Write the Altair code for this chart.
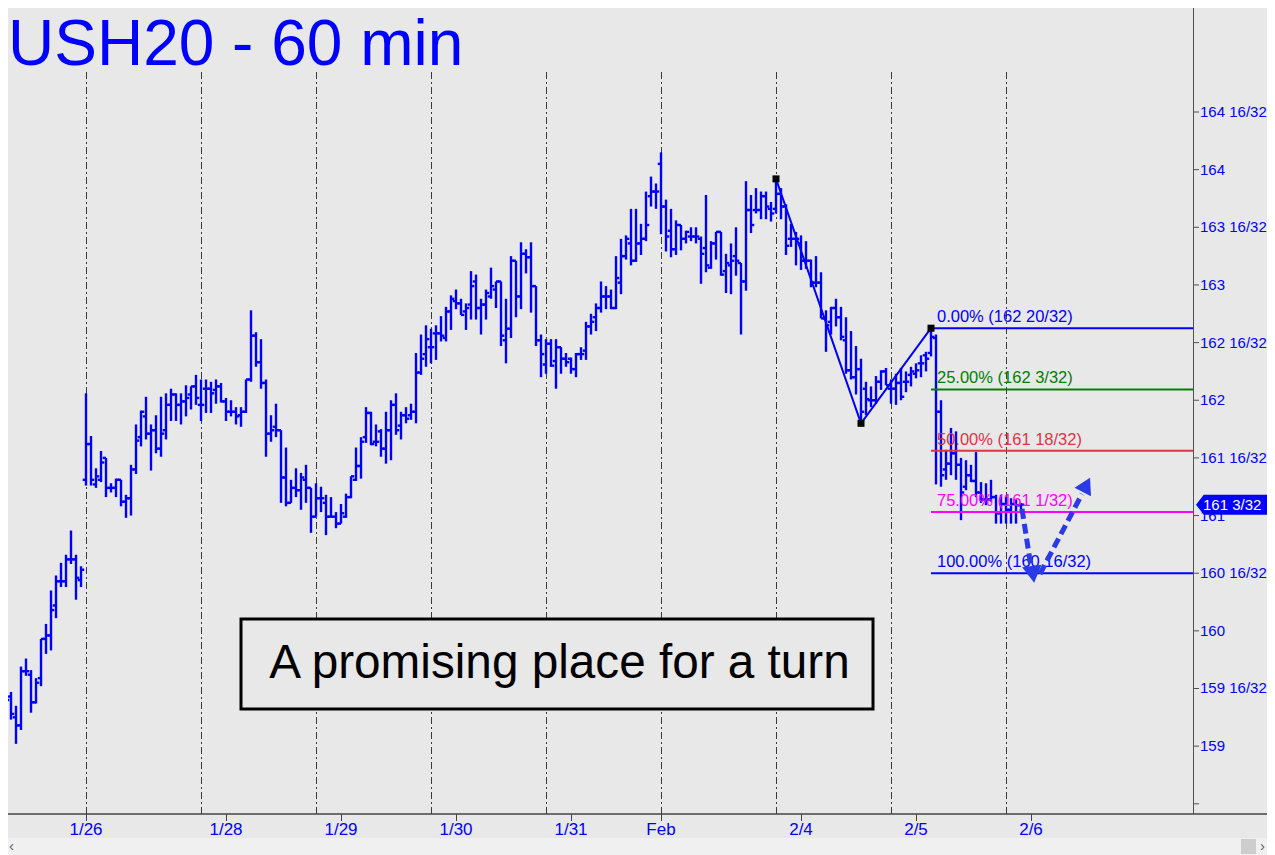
import altair as alt
import pandas as pd

# ---------------- data ----------------
opens = [159.45, 159.40, 159.43, 159.25, 159.18, 159.65, 159.62, 159.38, 159.59, 159.93,
         159.96, 160.22, 160.43, 160.43, 160.62, 160.62, 160.44,
         161.31, 161.62, 161.27, 161.31, 161.50, 161.24, 161.24, 161.31, 161.12, 161.15,
         161.40, 161.68, 161.86, 161.71, 161.74, 161.58, 161.74, 161.96, 162.05, 161.96,
         161.99, 162.05, 162.12,
         161.96, 162.10, 162.10, 162.09, 162.12, 161.99, 161.90, 161.90, 161.87, 161.90,
         162.18, 162.56, 162.33, 162.15, 161.71, 161.77, 161.74, 161.33, 161.11, 161.24,
         161.22, 161.31, 161.24,
         160.99, 161.15, 161.11, 160.99, 160.99, 160.93, 160.99, 161.16, 161.31, 161.43,
         161.68, 161.89, 161.64, 161.73, 161.58, 161.74, 161.96, 161.78, 161.87, 161.87,
         161.90, 162.24, 162.40,
         162.46, 162.58, 162.58, 162.54, 162.77, 162.86, 162.84, 162.77, 162.83, 163.03,
         162.80, 162.83, 162.90, 162.96, 163.03, 162.52, 162.62, 163.21, 162.90, 163.27,
         163.24, 162.99, 162.52,
         162.31, 162.49, 162.34, 162.46, 162.36, 162.36, 162.27, 162.40, 162.43, 162.64,
         162.72, 162.80, 162.90, 162.90, 162.80, 163.02, 163.25, 163.36, 163.21, 163.36,
         163.40, 163.77, 163.81,
         164.05, 163.68, 163.47, 163.31, 163.52, 163.40, 163.42, 163.42, 163.40, 163.32,
         163.15, 163.36, 163.46, 163.12, 163.17, 163.25, 163.19, 163.03, 163.65, 163.65,
         163.65, 163.77, 163.66,
         163.66, 163.79, 163.68, 163.40, 163.40, 163.36, 163.21, 163.21, 163.02, 163.02,
         162.71, 162.68, 162.80, 162.72, 162.52, 162.26, 162.20, 162.27, 162.10, 162.00,
         162.00, 162.16, 162.25,
         162.10, 162.10, 162.15, 162.16, 162.22, 162.23, 162.32, 162.39, 162.41, 162.54,
         161.90, 161.40, 161.45, 161.54, 161.44, 161.25, 161.35, 161.30, 161.20, 161.14,
         161.14, 161.16, 161.02,
         161.10, 161.05, 161.10, 161.09]

highs = [159.47, 159.50, 159.47, 159.35, 159.69, 159.76, 159.66, 159.59, 159.93, 160.06,
         160.35, 160.48, 160.59, 160.66, 160.87, 160.66, 160.56,
         162.06, 161.69, 161.41, 161.56, 161.50, 161.28, 161.32, 161.31, 161.18, 161.44,
         161.79, 161.91, 162.03, 161.79, 161.87, 162.03, 162.06, 162.10, 162.06, 162.06,
         162.13, 162.12, 162.22,
         162.18, 162.18, 162.16, 162.18, 162.15, 162.02, 162.00, 161.94, 161.94, 162.18,
         162.78, 162.59, 162.53, 162.18, 161.87, 161.97, 161.74, 161.59, 161.31, 161.41,
         161.37, 161.44, 161.24,
         161.28, 161.25, 161.18, 161.16, 161.03, 161.10, 161.19, 161.34, 161.59, 161.68,
         161.94, 161.90, 161.79, 161.75, 161.90, 162.00, 162.06, 161.90, 161.94, 161.97,
         162.41, 162.57, 162.65,
         162.62, 162.65, 162.73, 162.81, 162.91, 162.96, 162.88, 162.84, 163.12, 163.09,
         162.88, 162.96, 163.15, 163.03, 163.03, 162.88, 163.25, 163.21, 163.37, 163.31,
         163.37, 162.99, 162.57,
         162.53, 162.53, 162.53, 162.46, 162.41, 162.37, 162.41, 162.46, 162.68, 162.75,
         162.84, 163.03, 162.99, 162.96, 163.25, 163.40, 163.43, 163.66, 163.66, 163.53,
         163.81, 163.94, 163.88,
         164.15, 163.74, 163.66, 163.56, 163.52, 163.47, 163.50, 163.50, 163.42, 163.78,
         163.38, 163.46, 163.46, 163.27, 163.36, 163.50, 163.19, 163.90, 163.78, 163.84,
         163.81, 163.81, 163.72,
         163.92, 163.84, 163.70, 163.53, 163.46, 163.43, 163.38, 163.22, 163.25, 163.11,
         162.78, 162.81, 162.88, 162.81, 162.72, 162.60, 162.47, 162.36, 162.16, 162.12,
         162.21, 162.26, 162.28,
         162.18, 162.23, 162.28, 162.25, 162.29, 162.32, 162.39, 162.42, 162.625, 162.57,
         162.00, 161.57, 161.76, 161.73, 161.50, 161.48, 161.44, 161.55, 161.29, 161.28,
         161.31, 161.18, 161.18,
         161.16, 161.15, 161.14, 161.11]

lows = [159.33, 159.39, 159.23, 159.02, 159.14, 159.61, 159.29, 159.37, 159.52, 159.80,
        159.83, 160.11, 160.38, 160.38, 160.58, 160.27, 160.38,
        161.26, 161.26, 161.24, 161.29, 161.16, 161.20, 161.16, 161.08, 160.98, 161.00,
        161.36, 161.60, 161.66, 161.39, 161.54, 161.51, 161.66, 161.82, 161.82, 161.79,
        161.86, 161.92, 161.96,
        161.82, 161.89, 161.89, 161.97, 161.98, 161.82, 161.86, 161.79, 161.77, 161.89,
        162.16, 162.29, 162.10, 161.51, 161.64, 161.68, 161.11, 161.08, 161.11, 161.16,
        161.05, 161.11, 160.85,
        160.99, 161.03, 160.83, 160.99, 160.89, 160.93, 160.98, 161.15, 161.30, 161.32,
        161.63, 161.61, 161.60, 161.51, 161.45, 161.48, 161.70, 161.66, 161.80, 161.83,
        161.80, 162.22, 162.29,
        162.32, 162.35, 162.51, 162.51, 162.61, 162.79, 162.74, 162.61, 162.70, 162.70,
        162.57, 162.70, 162.88, 162.80, 162.47, 162.32, 162.54, 162.72, 162.79, 163.10,
        162.76, 162.47, 162.20,
        162.23, 162.29, 162.10, 162.23, 162.29, 162.23, 162.20, 162.35, 162.35, 162.57,
        162.60, 162.76, 162.79, 162.79, 162.79, 162.92, 163.22, 163.17, 163.20, 163.26,
        163.38, 163.68, 163.66,
        163.44, 163.29, 163.24, 163.26, 163.30, 163.36, 163.38, 163.36, 163.01, 163.11,
        163.14, 163.22, 163.08, 162.93, 162.92, 163.08, 162.57, 162.95, 163.45, 163.62,
        163.57, 163.57, 163.55,
        163.62, 163.57, 163.26, 163.33, 163.17, 163.13, 163.14, 162.98, 162.98, 162.71,
        162.42, 162.57, 162.64, 162.52, 162.23, 162.18, 162.05, 161.80, 161.87, 161.94,
        161.97, 162.09, 162.13,
        161.97, 161.96, 162.00, 162.07, 162.12, 162.19, 162.20, 162.25, 162.38, 161.27,
        161.25, 161.31, 161.35, 161.31, 160.96, 161.22, 161.29, 161.16, 161.11, 161.09,
        161.12, 160.93, 160.93,
        160.93, 160.93, 160.93, 161.02]

closes = [159.43, 159.40, 159.28, 159.18, 159.65, 159.65, 159.38, 159.55, 159.93, 159.96,
          160.18, 160.43, 160.43, 160.62, 160.62, 160.46, 160.53,
          161.62, 161.31, 161.34, 161.46, 161.24, 161.24, 161.31, 161.12, 161.15, 161.40,
          161.65, 161.90, 161.71, 161.74, 161.58, 161.71, 161.96, 162.05, 161.96, 161.99,
          162.02, 162.12, 162.02,
          161.96, 162.10, 162.06, 162.12, 161.99, 161.90, 161.90, 161.86, 161.90, 162.18,
          162.56, 162.33, 162.15, 161.71, 161.74, 161.74, 161.33, 161.11, 161.24, 161.22,
          161.33, 161.24, 160.99,
          161.15, 161.15, 160.99, 160.99, 160.93, 161.02, 161.16, 161.34, 161.43, 161.64,
          161.89, 161.62, 161.64, 161.58, 161.74, 161.96, 161.74, 161.87, 161.84, 161.90,
          162.24, 162.36, 162.53,
          162.46, 162.58, 162.56, 162.77, 162.88, 162.84, 162.74, 162.80, 162.99, 162.80,
          162.83, 162.93, 162.99, 163.03, 162.56, 162.62, 163.21, 162.90, 163.27, 163.24,
          162.99, 162.52, 162.40,
          162.49, 162.30, 162.46, 162.36, 162.33, 162.27, 162.40, 162.40, 162.64, 162.68,
          162.80, 162.90, 162.90, 162.80, 163.06, 163.25, 163.40, 163.21, 163.36, 163.40,
          163.52, 163.81, 163.81,
          163.68, 163.42, 163.31, 163.52, 163.40, 163.46, 163.42, 163.42, 163.27, 163.17,
          163.36, 163.46, 163.09, 163.19, 163.21, 163.21, 163.03, 163.65, 163.52, 163.65,
          163.77, 163.68, 163.62,
          163.79, 163.68, 163.34, 163.40, 163.40, 163.21, 163.21, 163.02, 163.02, 162.71,
          162.65, 162.80, 162.72, 162.55, 162.26, 162.20, 162.27, 161.90, 162.01, 162.00,
          162.16, 162.25, 162.13,
          162.10, 162.15, 162.03, 162.16, 162.25, 162.26, 162.32, 162.36, 162.55, 161.90,
          161.35, 161.45, 161.54, 161.44, 161.20, 161.35, 161.30, 161.20, 161.14, 161.14,
          161.16, 161.02, 161.10,
          161.05, 161.10, 161.09, 161.094]

session_starts = [17, 40, 63, 86, 109, 132, 155, 178, 201]
date_positions = [17, 45, 68, 91, 114, 132, 160, 183, 206]
date_labels = ["1/26", "1/28", "1/29", "1/30", "1/31", "Feb", "2/4", "2/5", "2/6"]

price_ticks = [158.5, 159, 159.5, 160, 160.5, 161, 161.5, 162, 162.5, 163, 163.5, 164, 164.5]
price_labels = ["", "159", "159 16/32", "160", "160 16/32", "161", "161 16/32", "162",
                "162 16/32", "163", "163 16/32", "164", "164 16/32"]

fib_prices = [162.625, 162.09375, 161.5625, 161.03125, 160.5]
fib_labels = ["0.00% (162 20/32)", "25.00% (162 3/32)", "50.00% (161 18/32)",
              "75.00% (161 1/32)", "100.00% (160 16/32)"]
fib_line_colors = ["#0000FF", "#008000", "#DC3545", "#FF00FF", "#0000FF"]
fib_text_colors = ["#2B2BFF", "#1E8C1E", "#D8405A", "#F020F0", "#2B2BFF"]
fib_start = [186, 186, 186, 186, 186]
fib_label_k = [187.2, 187.2, 187.2, 187.2, 187.2]

zig_k = [155, 172, 186]
zig_p = [163.92, 161.80, 162.625]

arrow_seg = ["down", "down", "up", "up"]
arrow_k = [204.2, 206.0, 207.8, 216.2]
arrow_p = [161.057, 160.554, 160.493, 161.187]
head_k = [206.4, 217.08]
head_p = [160.49, 161.266]

last_price = [161.09375]
last_label = ["161 3/32"]

# ---------------- styling ----------------
BLUE = "#0000FF"
BG = "#E8E8E8"
AXIS = "#505050"
W, H = 1185, 806          # plot area
TW, TH = 1259, 847        # whole drawing
BAR_W = 2.4

bars = pd.DataFrame({"k": list(range(len(opens))), "o": opens, "h": highs,
                     "l": lows, "c": closes})

xs = alt.Scale(domain=[1.4, 238.4], nice=False, zero=False)
ys = alt.Scale(domain=[158.4115, 165.402], nice=False, zero=False)


def X(f):
    return alt.X(f, scale=xs, axis=None)


def Y(f):
    return alt.Y(f, scale=ys, axis=None)


one = pd.DataFrame({"a": [0]})

# session separators
sessions = alt.Chart(pd.DataFrame({"k": session_starts})).mark_rule(
    color="#3A3A3A", strokeWidth=1, strokeDash=[7, 3, 2, 3], xOffset=0.5
).encode(x=X("k:Q"), y=alt.value(64), y2=alt.value(H))

# OHLC bars
hl = alt.Chart(bars).mark_rule(color=BLUE, strokeWidth=BAR_W).encode(
    x=X("k:Q"), y=Y("l:Q"), y2="h:Q")
op = alt.Chart(bars).transform_calculate(k0="datum.k - 0.65").mark_rule(
    color=BLUE, strokeWidth=BAR_W).encode(x=X("k0:Q"), x2="k:Q", y=Y("o:Q"))
cl = alt.Chart(bars).transform_calculate(k1="datum.k + 0.65").mark_rule(
    color=BLUE, strokeWidth=BAR_W).encode(x=X("k:Q"), x2="k1:Q", y=Y("c:Q"))

# right price axis (drawn by hand)
ytk = pd.DataFrame({"p": price_ticks, "t": price_labels})
y_dom = alt.Chart(one).mark_rule(color=AXIS, strokeWidth=1).encode(
    x=alt.value(W + 0.5), y=alt.value(0), y2=alt.value(H))
y_ticks = alt.Chart(ytk).mark_rule(color=AXIS, strokeWidth=1).encode(
    x=alt.value(W), x2=alt.value(W + 6), y=Y("p:Q"))
y_labels = alt.Chart(ytk).mark_text(align="left", baseline="middle", fontSize=15,
                                     font="Liberation Sans", color=BLUE).encode(
    x=alt.value(W + 7), y=Y("p:Q"), text="t:N")

# bottom date axis (drawn by hand)
xtk = pd.DataFrame({"k": date_positions, "t": date_labels})
x_line = alt.Chart(one).mark_rule(color="#444444", strokeWidth=1.5).encode(
    x=alt.value(0), x2=alt.value(TW), y=alt.value(H))
x_ticks = alt.Chart(xtk).mark_rule(color="#444444", strokeWidth=1, xOffset=0.5).encode(
    x=X("k:Q"), y=alt.value(H), y2=alt.value(H + 7))
x_labels = alt.Chart(xtk).mark_text(align="center", baseline="middle", fontSize=17,
                                     font="Liberation Sans Narrow, Liberation Sans",
                                     color=BLUE).encode(
    x=X("k:Q"), y=alt.value(H + 16), text="t:N")

# fib levels
fib = pd.DataFrame({"p": fib_prices, "name": fib_labels, "start": fib_start,
                    "lk": fib_label_k})
fib_lines = alt.Chart(fib).mark_rule(strokeWidth=2).encode(
    x=X("start:Q"), x2=alt.value(W), y=Y("p:Q"),
    color=alt.Color("name:N", scale=alt.Scale(domain=fib_labels, range=fib_line_colors),
                    legend=None))
fib_text = alt.Chart(fib).mark_text(align="left", baseline="alphabetic", dy=-6,
                                     fontSize=16.5, font="Liberation Sans").encode(
    x=X("lk:Q"), y=Y("p:Q"), text="name:N",
    color=alt.Color("name:N", scale=alt.Scale(domain=fib_labels, range=fib_text_colors),
                    legend=None))

# zigzag with pivots
zig = pd.DataFrame({"k": zig_k, "p": zig_p})
zig_line = alt.Chart(zig).mark_line(color=BLUE, strokeWidth=2).encode(
    x=X("k:Q"), y=Y("p:Q"))
zig_pts = alt.Chart(zig).mark_square(size=49, color="black", filled=True, opacity=1).encode(
    x=X("k:Q"), y=Y("p:Q"))

# dashed forecast arrow
ARROW = "#2A3AE6"
arr = pd.DataFrame({"seg": arrow_seg, "k": arrow_k, "p": arrow_p})
arrow_lines = alt.Chart(arr).mark_line(color=ARROW, strokeWidth=5, strokeDash=[10, 5]).encode(
    x=X("k:Q"), y=Y("p:Q"), detail="seg:N")
head_down = alt.Chart(pd.DataFrame({"k": head_k[:1], "p": head_p[:1]})).mark_point(
    shape="triangle-down", angle=352, size=380, filled=True, color=ARROW, opacity=1).encode(
    x=X("k:Q"), y=Y("p:Q"))
head_up = alt.Chart(pd.DataFrame({"k": head_k[1:], "p": head_p[1:]})).mark_point(
    shape="triangle-up", angle=27, size=340, filled=True, color=ARROW, opacity=1).encode(
    x=X("k:Q"), y=Y("p:Q"))

# annotation box
box = alt.Chart(one).mark_rect(fill=BG, stroke="black", strokeWidth=3).encode(
    x=alt.value(233), x2=alt.value(865), y=alt.value(611), y2=alt.value(701))
box_text = alt.Chart(one).mark_text(text="A promising place for a turn", fontSize=47.7,
                                     font="Liberation Sans", color="black", align="center",
                                     baseline="alphabetic").encode(
    x=alt.value(551.5), y=alt.value(670))

title = alt.Chart(one).mark_text(text="USH20 - 60 min", fontSize=64, font="Liberation Sans",
                                  color=BLUE, align="left", baseline="alphabetic").encode(
    x=alt.value(0), y=alt.value(57))

# last price tag
lp = pd.DataFrame({"p": last_price, "t": last_label})
tag = alt.Chart(lp).mark_point(
    shape="M -1 0 L -0.78 -0.28 L 1 -0.28 L 1 0.28 L -0.78 0.28 Z",
    size=5041, filled=True, color=BLUE, opacity=1, strokeWidth=0).encode(
    x=alt.value(1223.5), y=Y("p:Q"))
tag_text = alt.Chart(lp).mark_text(align="left", baseline="middle", fontSize=15,
                                    font="Liberation Sans", color="white").encode(
    x=alt.value(1195), y=Y("p:Q"), text="t:N")

# scrollbar strip
scroll = alt.Chart(one).mark_rect(fill="#F0F0F0").encode(
    x=alt.value(0), x2=alt.value(TW), y=alt.value(830), y2=alt.value(TH))
thumb = alt.Chart(one).mark_rect(fill="#CDCDCD").encode(
    x=alt.value(1233), x2=alt.value(1248), y=alt.value(831), y2=alt.value(846))
arrow_l = alt.Chart(one).mark_text(text="\u2039", fontSize=15, color="#606060",
                                    align="left", baseline="middle").encode(
    x=alt.value(1), y=alt.value(838))
arrow_r = alt.Chart(one).mark_text(text="\u203A", fontSize=15, color="#606060",
                                    align="left", baseline="middle").encode(
    x=alt.value(1252), y=alt.value(838))

chart = alt.layer(
    sessions, y_dom, y_ticks, y_labels, x_line, x_ticks, x_labels,
    hl, op, cl, fib_lines, fib_text, zig_line, zig_pts,
    arrow_lines, head_down, head_up, box, box_text, title,
    tag, tag_text, scroll, thumb, arrow_l, arrow_r
).properties(
    width=W, height=H,
    padding={"left": 0, "top": 0, "right": TW - W, "bottom": TH - H},
    autosize=alt.AutoSizeParams(type="none"),
).configure(background=BG).configure_view(stroke=None)

chart.save("out.html", embed_options={"renderer": "svg", "actions": False})
